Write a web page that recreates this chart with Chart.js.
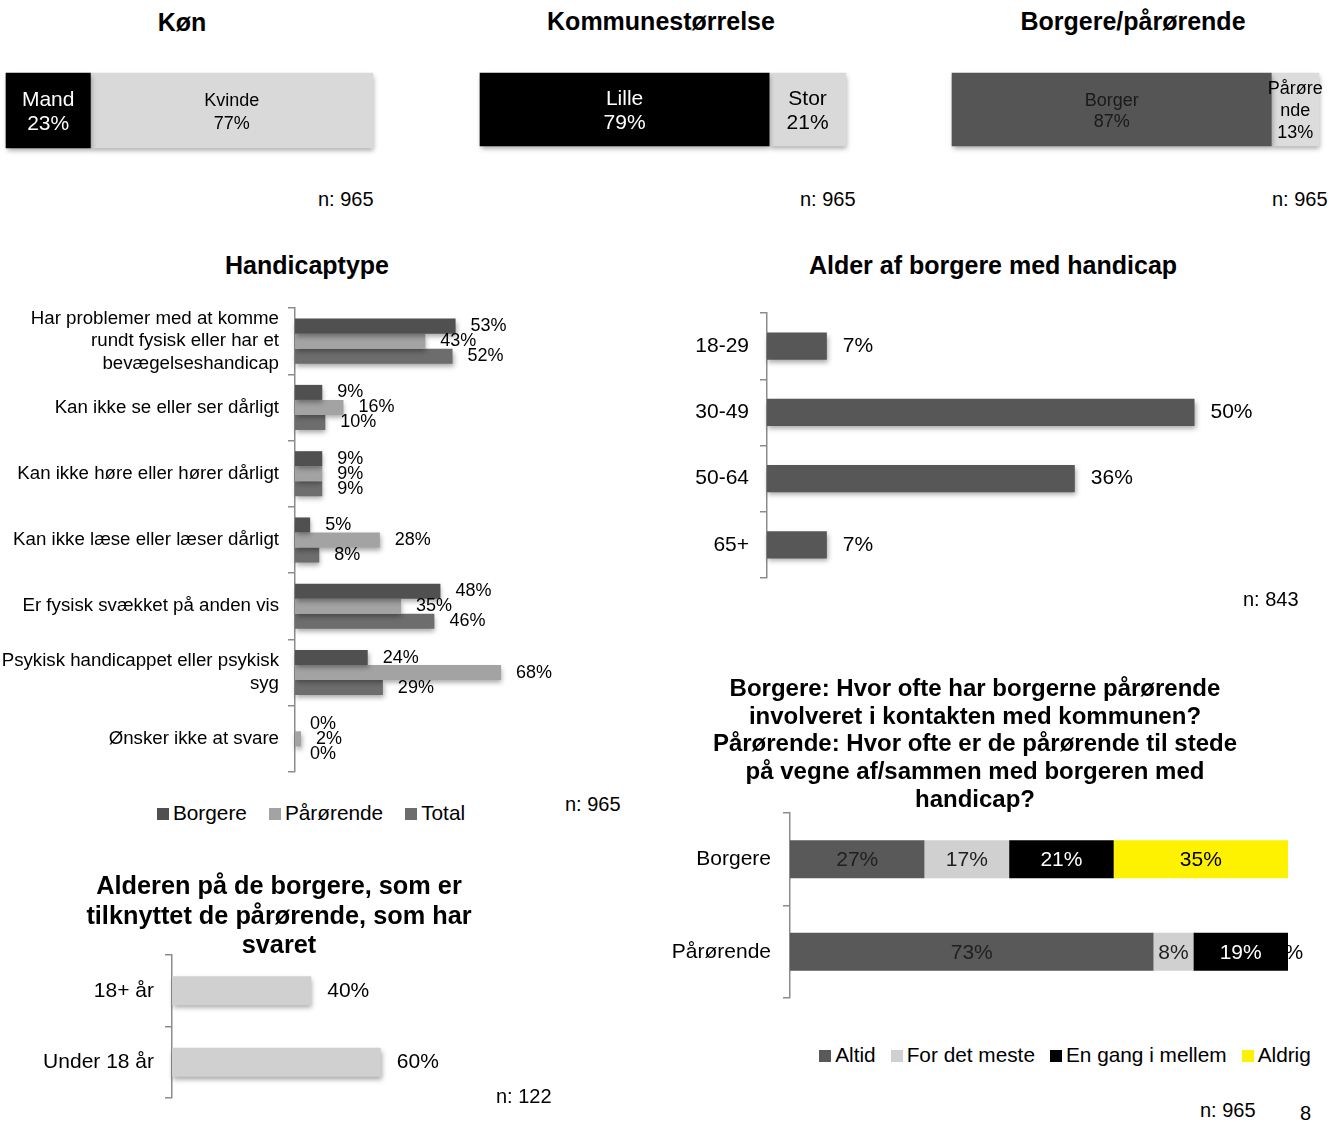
<!DOCTYPE html>
<html>
<head>
<meta charset="utf-8">
<script src="https://cdn.jsdelivr.net/npm/chart.js@4.4.1/dist/chart.umd.min.js"></script>
<style>
  body { margin: 0; background: #fff; font-family: 'Liberation Sans', Arial, sans-serif; color: #000; }
  #page { position: relative; width: 1343px; height: 1122px; overflow: hidden; }
  canvas { position: absolute; }
  .t { position: absolute; width: 600px; font-weight: bold; text-align: center; white-space: nowrap; }
  .n { position: absolute; font-size: 20px; line-height: 24px; white-space: nowrap; }
  .lg { position: absolute; width: 600px; font-size: 20.8px; line-height: 24px; text-align: center; white-space: nowrap; }
  .lg span { display: inline-block; }
  .lg i { display: inline-block; width: 12px; height: 12px; margin-right: 4px; }
</style>
</head>
<body>
<div id="page">
  <canvas id="kon" width="390" height="95" style="left:0;top:65px"></canvas>
  <canvas id="kommune" width="390" height="95" style="left:470px;top:65px"></canvas>
  <canvas id="rolle" width="400" height="95" style="left:940px;top:65px"></canvas>
  <canvas id="handicap" width="622" height="482" style="left:0;top:300px"></canvas>
  <canvas id="alder" width="700" height="288" style="left:640px;top:300px"></canvas>
  <canvas id="kontakt" width="700" height="200" style="left:640px;top:805px"></canvas>
  <canvas id="paarAlder" width="560" height="158" style="left:0;top:950px"></canvas>

  <div class="t" style="left:-118px;top:7px;font-size:25px;line-height:30px">Køn</div>
  <div class="t" style="left:361px;top:6px;font-size:25px;line-height:30px">Kommunestørrelse</div>
  <div class="t" style="left:833px;top:6px;font-size:25px;line-height:30px">Borgere/pårørende</div>
  <div class="t" style="left:7px;top:250px;font-size:25px;line-height:30px">Handicaptype</div>
  <div class="t" style="left:693px;top:250px;font-size:25px;line-height:30px">Alder af borgere med handicap</div>
  <div class="t" style="left:675px;top:674px;font-size:24px;line-height:27.7px">Borgere: Hvor ofte har borgerne pårørende<br>involveret i kontakten med kommunen?<br>Pårørende: Hvor ofte er de pårørende til stede<br>på vegne af/sammen med borgeren med<br>handicap?</div>
  <div class="t" style="left:-21px;top:871px;font-size:25.3px;line-height:29.5px">Alderen på de borgere, som er<br>tilknyttet de pårørende, som har<br>svaret</div>

  <div class="n" style="left:318px;top:187px">n: 965</div>
  <div class="n" style="left:800px;top:187px">n: 965</div>
  <div class="n" style="left:1272px;top:187px">n: 965</div>
  <div class="n" style="left:565px;top:792px">n: 965</div>
  <div class="n" style="left:1243px;top:587px">n: 843</div>
  <div class="n" style="left:1200px;top:1098px">n: 965</div>
  <div class="n" style="left:496px;top:1084px">n: 122</div>
  <div class="n" style="left:1300px;top:1101px">8</div>

  <div class="lg" id="handicapLegend" style="left:11px;top:801px"></div>
  <div class="lg" id="kontaktLegend" style="left:765px;top:1043px"></div>
</div>

<script>
const FONT = "'Liberation Sans', Arial, sans-serif";
Chart.defaults.font.family = FONT;
Chart.defaults.color = '#000';
Chart.defaults.animation = false;
Chart.defaults.plugins.legend.display = false;
Chart.defaults.plugins.tooltip.enabled = false;

// data
const konNames = ['Mand', 'Kvinde'];
const konValues = [23, 77];
const kommuneNames = ['Lille', 'Stor'];
const kommuneValues = [79, 21];
const rolleNames = ['Borger', 'Pårørende'];
const rolleValues = [87, 13];

const handicapCats = [
  ['Har problemer med at komme', 'rundt fysisk eller har et', 'bevægelseshandicap'],
  'Kan ikke se eller ser dårligt',
  'Kan ikke høre eller hører dårligt',
  'Kan ikke læse eller læser dårligt',
  'Er fysisk svækket på anden vis',
  ['Psykisk handicappet eller psykisk', 'syg'],
  'Ønsker ikke at svare'
];
const handicapBorgere = [53, 9, 9, 5, 48, 24, 0];
const handicapPaarorende = [43, 16, 9, 28, 35, 68, 2];
const handicapTotal = [52, 10, 9, 8, 46, 29, 0];

const alderCats = ['18-29', '30-49', '50-64', '65+'];
const alderValues = [7, 50, 36, 7];

const kontaktCats = ['Borgere', 'Pårørende'];
const kontaktNames = ['Altid', 'For det meste', 'En gang i mellem', 'Aldrig'];
const kontaktAltid = [27, 73];
const kontaktMeste = [17, 8];
const kontaktMellem = [21, 19];
const kontaktAldrig = [35, 0];

const paarAlderCats = ['18+ år', 'Under 18 år'];
const paarAlderValues = [40, 60];

// drop shadow under the bars
const barShadow = {
  id: 'barShadow',
  beforeDatasetsDraw(chart) {
    const c = chart.ctx;
    c.save();
    c.shadowColor = 'rgba(0,0,0,0.35)';
    c.shadowBlur = 5;
    c.shadowOffsetX = 1;
    c.shadowOffsetY = 3;
  },
  afterDatasetsDraw(chart) { chart.ctx.restore(); }
};

function endLabels(size, offset) {
  return {
    id: 'endLabels',
    afterDraw(chart) {
      const ctx = chart.ctx;
      ctx.save();
      ctx.font = size + 'px ' + FONT;
      ctx.fillStyle = '#000';
      ctx.textAlign = 'left';
      ctx.textBaseline = 'middle';
      chart.data.datasets.forEach((ds, i) => {
        chart.getDatasetMeta(i).data.forEach((bar, j) => {
          ctx.fillText(ds.data[j] + '%', bar.x + offset, bar.y);
        });
      });
      ctx.restore();
    }
  };
}

function centerLabels(lineFn, dy) {
  return {
    id: 'centerLabels',
    afterDraw(chart) {
      const ctx = chart.ctx;
      ctx.save();
      ctx.textAlign = 'center';
      ctx.textBaseline = 'middle';
      chart.data.datasets.forEach((ds, i) => {
        chart.getDatasetMeta(i).data.forEach((bar, j) => {
          const size = ds.labelSize;
          const lh = ds.labelLH || size * 1.2;
          const lines = lineFn(ds, ds.data[j]);
          ctx.font = size + 'px ' + FONT;
          ctx.fillStyle = ds.labelColor;
          const x = (bar.x + bar.base) / 2;
          let y = bar.y - (lines.length - 1) * lh / 2 + dy;
          lines.forEach(t => { ctx.fillText(t, x, y); y += lh; });
        });
      });
      ctx.restore();
    }
  };
}

function catAxis(width, size, pad) {
  return {
    afterFit(s) {
      s.width = width;
      s.paddingTop = 0;
      s.paddingBottom = 0;
    },
    border: { color: '#8c8c8c', width: 1.5 },
    grid: { drawOnChartArea: false, color: '#8c8c8c', lineWidth: 1.5, tickLength: 7, offset: true },
    ticks: { font: { size: size }, color: '#000', padding: pad, autoSkip: false }
  };
}

function splitBar(id, names, values, colors, textColors, sizes, lineHeights, pad, wrap) {
  new Chart(document.getElementById(id), {
    type: 'bar',
    data: {
      labels: [''],
      datasets: names.map((n, i) => ({
        label: n, data: [values[i]], backgroundColor: colors[i],
        labelColor: textColors[i], labelSize: sizes[i], labelLH: lineHeights[i]
      }))
    },
    options: {
      indexAxis: 'y',
      responsive: false,
      layout: { padding: pad },
      datasets: { bar: { barPercentage: 1, categoryPercentage: 1, clip: false } },
      scales: {
        x: { display: false, stacked: true, min: 0, max: 100 },
        y: { display: false, stacked: true }
      }
    },
    plugins: [barShadow, centerLabels((ds, v) => [...((wrap && wrap[ds.label]) || [ds.label]), v + '%'], 2)]
  });
}

splitBar('kon', konNames, konValues, ['#000000', '#d9d9d9'], ['#fff', '#000'], [21, 18], [24, 23],
  { left: 6, top: 8, right: 17, bottom: 12 });
splitBar('kommune', kommuneNames, kommuneValues, ['#000000', '#d9d9d9'], ['#fff', '#000'], [21, 21], [24, 24],
  { left: 10, top: 8, right: 14, bottom: 14 });
splitBar('rolle', rolleNames, rolleValues, ['#555555', '#dcdcdc'], ['#1a1a1a', '#000'], [18, 18], [21.5, 22],
  { left: 12, top: 8, right: 21, bottom: 14 }, { 'Pårørende': ['Pårøre', 'nde'] });

const handicapChart = new Chart(document.getElementById('handicap'), {
  type: 'bar',
  data: {
    labels: handicapCats,
    datasets: [
      { label: 'Borgere', data: handicapBorgere, backgroundColor: '#505050' },
      { label: 'Pårørende', data: handicapPaarorende, backgroundColor: '#a3a3a3' },
      { label: 'Total', data: handicapTotal, backgroundColor: '#6d6d6d' }
    ]
  },
  options: {
    indexAxis: 'y',
    responsive: false,
    layout: { padding: { left: 0, top: 8, right: 24, bottom: 10 } },
    datasets: { bar: { barPercentage: 1, categoryPercentage: 0.68, clip: false } },
    scales: { x: { display: false, min: 0, max: 100 }, y: catAxis(295, 18.7, 9) }
  },
  plugins: [barShadow, endLabels(18, 15)]
});

new Chart(document.getElementById('alder'), {
  type: 'bar',
  data: { labels: alderCats, datasets: [{ label: 'Alder', data: alderValues, backgroundColor: '#575757' }] },
  options: {
    indexAxis: 'y',
    responsive: false,
    layout: { padding: { left: 0, top: 13, right: 60, bottom: 10 } },
    datasets: { bar: { barPercentage: 1, categoryPercentage: 0.41, clip: false } },
    scales: { x: { display: false, min: 0, max: 60 }, y: catAxis(127, 21, 11) }
  },
  plugins: [barShadow, endLabels(21, 16)]
});

const kontaktColors = ['#595959', '#d0d0d0', '#000000', '#fff200'];
const kontaktText = ['#1f1f1f', '#1f1f1f', '#ffffff', '#000000'];
const kontaktChart = new Chart(document.getElementById('kontakt'), {
  type: 'bar',
  data: {
    labels: kontaktCats,
    datasets: [kontaktAltid, kontaktMeste, kontaktMellem, kontaktAldrig].map((d, i) => ({
      label: kontaktNames[i], data: d, backgroundColor: kontaktColors[i],
      labelColor: kontaktText[i], labelSize: 21
    }))
  },
  options: {
    indexAxis: 'y',
    responsive: false,
    layout: { padding: { left: 0, top: 8, right: 52, bottom: 7 } },
    datasets: { bar: { barPercentage: 1, categoryPercentage: 0.41 } },
    scales: {
      x: { display: false, stacked: true, min: 0, max: 100 },
      y: Object.assign(catAxis(150, 21, 12), { stacked: true })
    }
  },
  plugins: [centerLabels((ds, v) => [v + '%'], 1)]
});

new Chart(document.getElementById('paarAlder'), {
  type: 'bar',
  data: { labels: paarAlderCats, datasets: [{ label: 'Alder', data: paarAlderValues, backgroundColor: '#d0d0d0' }] },
  options: {
    indexAxis: 'y',
    responsive: false,
    layout: { padding: { left: 0, top: 5, right: 40, bottom: 10 } },
    datasets: { bar: { barPercentage: 1, categoryPercentage: 0.405, clip: false } },
    scales: { x: { display: false, min: 0, max: 100 }, y: catAxis(172, 21, 11) }
  },
  plugins: [barShadow, endLabels(21, 16)]
});

// html legends built from the chart datasets
function htmlLegend(chart, id, gap) {
  document.getElementById(id).innerHTML = chart.data.datasets.map((ds, i) =>
    '<span style="margin-left:' + (i ? gap : 0) + 'px"><i style="background:' + ds.backgroundColor + '"></i>' + ds.label + '</span>'
  ).join('');
}
htmlLegend(handicapChart, 'handicapLegend', 22);
htmlLegend(kontaktChart, 'kontaktLegend', 15);
</script>
</body>
</html>
